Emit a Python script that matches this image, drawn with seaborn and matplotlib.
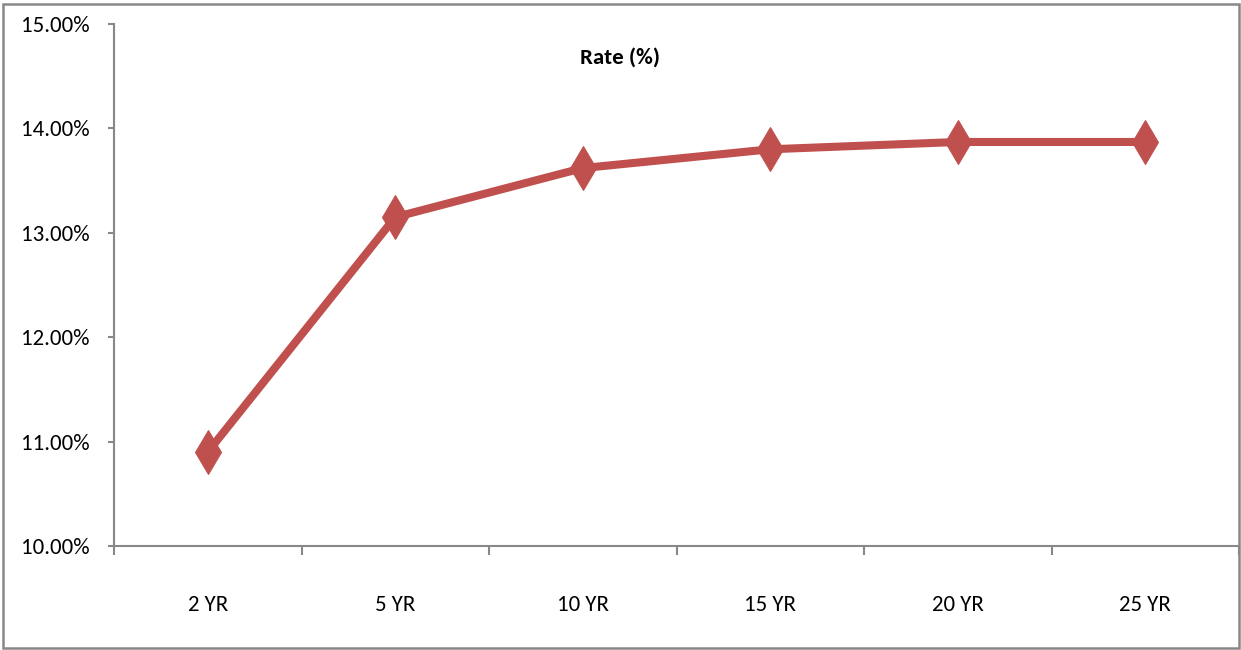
import matplotlib
matplotlib.use("Agg")
import matplotlib.pyplot as plt
import matplotlib.patches as mpatches
from matplotlib.ticker import FixedLocator, PercentFormatter
import seaborn as sns
import pandas as pd

categories = ["2 YR", "5 YR", "10 YR", "15 YR", "20 YR", "25 YR"]
rates = [10.90, 13.15, 13.62, 13.80, 13.87, 13.87]
title = "Rate (%)"

sns.set_theme(style="white")
plt.rcParams["font.family"] = ["Carlito", "Lato", "DejaVu Sans"]

df = pd.DataFrame({"tenor": categories, "rate": rates})

fig = plt.figure(figsize=(12.41, 6.5), dpi=100)
ax = fig.add_axes([114 / 1241, 1 - 546 / 650, (1239 - 114) / 1241, (546 - 24) / 650])

color = "#C0504D"
sns.lineplot(data=df, x="tenor", y="rate", ax=ax, color=color, linewidth=5.8,
             marker="d", markersize=22, markeredgecolor=color, markerfacecolor=color,
             sort=False)

ax.set_ylim(10, 15)
ax.set_xlim(-0.5, len(categories) - 0.5)
ax.set_yticks([10, 11, 12, 13, 14, 15])
ax.yaxis.set_major_formatter(PercentFormatter(decimals=2))
ax.set_xticks(range(len(categories)))
ax.set_xticklabels(categories)
ax.xaxis.set_minor_locator(FixedLocator([i - 0.5 for i in range(len(categories) + 1)]))

ax.set_xlabel("")
ax.set_ylabel("")

for s in ["top", "right"]:
    ax.spines[s].set_visible(False)
for s in ["left", "bottom"]:
    ax.spines[s].set_color("#888888")
    ax.spines[s].set_linewidth(1.5)

ax.tick_params(axis="x", which="major", length=0, pad=35, labelsize=16.5, colors="black")
ax.tick_params(axis="x", which="minor", length=6.5, width=1.5, color="#888888", direction="out")
ax.tick_params(axis="y", which="major", length=4.5, width=1.5, color="#888888",
               direction="out", pad=13, labelsize=16.5, labelcolor="black")
ax.tick_params(left=True, bottom=True)
ax.xaxis.set_tick_params(which="minor", bottom=True)

ax.text(0.5, 1 - 58 / 650, title, transform=fig.transFigure, ha="center", va="center",
        fontsize=16.5, fontweight="bold", color="black")

border = mpatches.Rectangle((3 / 1241, 2 / 650), (1239 - 3) / 1241, (647 - 3) / 650,
                            transform=fig.transFigure, fill=False, edgecolor="#888888",
                            linewidth=1.8)
fig.patches.append(border)

fig.savefig("out.png", dpi=100)
